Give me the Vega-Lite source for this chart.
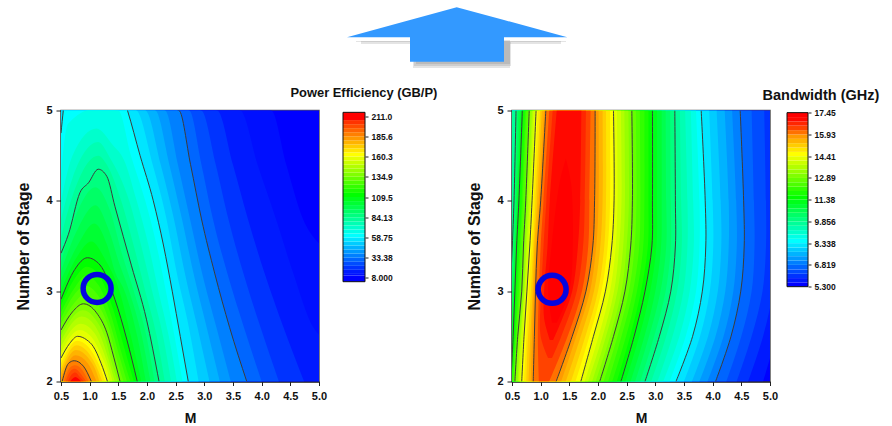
{"$schema":"https://vega.github.io/schema/vega-lite/v6.json","autosize":{"type":"pad"},"padding":{"left":15,"top":0,"right":0,"bottom":0},"bounds":"flush","spacing":30.5,"background":"white","config":{"view":{"stroke":null},"axis":{"labelFont":"Liberation Sans","labelFontWeight":"bold","titleFont":"Liberation Sans","titleFontWeight":"bold","labelColor":"#111","titleColor":"#111","tickColor":"#222","domainColor":"#222","grid":false,"labelOverlap":false,"labelFlush":false}},
"datasets":{
"arrow":[{"u":286,"t":37.3,"b":37.3},{"u":349,"t":20,"b":37.3},{"u":349.01,"t":20,"b":61.7},{"u":395.7,"t":7.3,"b":61.7},{"u":443,"t":20,"b":61.7},{"u":443.01,"t":20,"b":37.3},{"u":506.3,"t":37.3,"b":37.3}],
"shadow":[{"g":1,"u":292,"t":40,"b":40},{"u":355,"g":1,"t":40,"b":40},{"g":1,"u":355.01,"t":40,"b":64},{"g":1,"u":449,"t":40,"b":64},{"g":1,"u":449.01,"t":40,"b":40},{"g":1,"u":512,"t":40,"b":40},{"g":2,"u":295,"t":41,"b":42},{"g":2,"u":353,"t":41,"b":42},{"g":2,"u":353.01,"t":41,"b":66},{"g":2,"u":450,"t":41,"b":66},{"g":2,"u":450.01,"t":41,"b":42},{"g":2,"u":505,"t":41,"b":42},{"g":3,"u":300,"t":41,"b":44},{"g":3,"u":352,"t":41,"b":44},{"g":3,"u":352.01,"t":41,"b":68},{"g":3,"u":449,"t":41,"b":68},{"g":3,"u":449.01,"t":41,"b":44},{"g":3,"u":500,"t":41,"b":44}],
"pe":[
{"L":8,"m":0.5,"s":5.3},{"L":8,"m":5,"s":5.3},
{"L":11,"m":0.5,"s":5.3},{"L":11,"m":4.17,"s":5},{"L":11,"m":4.43,"s":4.4},{"L":11,"m":4.72,"s":3.8},{"L":11,"m":5,"s":3.53},
{"L":13.1,"m":0.5,"s":5.3},{"L":13.1,"m":3.63,"s":5},{"L":13.1,"m":3.93,"s":4.4},{"L":13.1,"m":4.25,"s":3.8},{"L":13.1,"m":4.55,"s":3.2},{"L":13.1,"m":4.9,"s":2.6},{"L":13.1,"m":5,"s":2.52},
{"L":18.2,"m":0.5,"s":5.3},{"L":18.2,"m":3.23,"s":5},{"L":18.2,"m":3.5,"s":4.4},{"L":18.2,"m":3.76,"s":3.8},{"L":18.2,"m":4.05,"s":3.2},{"L":18.2,"m":4.38,"s":2.6},{"L":18.2,"m":4.74,"s":2},
{"L":23.2,"m":0.5,"s":5.3},{"L":23.2,"m":2.95,"s":5},{"L":23.2,"m":3.2,"s":4.4},{"L":23.2,"m":3.42,"s":3.8},{"L":23.2,"m":3.68,"s":3.2},{"L":23.2,"m":3.98,"s":2.6},{"L":23.2,"m":4.3,"s":2},
{"L":28.3,"m":0.5,"s":5.3},{"L":28.3,"m":2.74,"s":5},{"L":28.3,"m":2.95,"s":4.4},{"L":28.3,"m":3.15,"s":3.8},{"L":28.3,"m":3.4,"s":3.2},{"L":28.3,"m":3.69,"s":2.6},{"L":28.3,"m":4,"s":2},
{"L":33.38,"m":0.5,"s":5.3},{"L":33.38,"m":2.56,"s":5},{"L":33.38,"m":2.76,"s":4.4},{"L":33.38,"m":2.95,"s":3.8},{"L":33.38,"m":3.18,"s":3.2},{"L":33.38,"m":3.44,"s":2.6},{"L":33.38,"m":3.74,"s":2},
{"L":38.5,"m":0.5,"s":5.3},{"L":38.5,"m":2.32,"s":5},{"L":38.5,"m":2.54,"s":4.4},{"L":38.5,"m":2.75,"s":3.8},{"L":38.5,"m":2.96,"s":3.2},{"L":38.5,"m":3.21,"s":2.6},{"L":38.5,"m":3.46,"s":2},
{"L":43.5,"m":0.5,"s":5.3},{"L":43.5,"m":2.15,"s":5},{"L":43.5,"m":2.39,"s":4.4},{"L":43.5,"m":2.61,"s":3.8},{"L":43.5,"m":2.81,"s":3.2},{"L":43.5,"m":3.04,"s":2.6},{"L":43.5,"m":3.27,"s":2},
{"L":48.6,"m":0.5,"s":5.3},{"L":48.6,"m":1.98,"s":5},{"L":48.6,"m":2.24,"s":4.4},{"L":48.6,"m":2.47,"s":3.8},{"L":48.6,"m":2.66,"s":3.2},{"L":48.6,"m":2.88,"s":2.6},{"L":48.6,"m":3.09,"s":2},
{"L":53.67,"m":0.5,"s":5.3},{"L":53.67,"m":1.82,"s":5},{"L":53.67,"m":2.1,"s":4.4},{"L":53.67,"m":2.34,"s":3.8},{"L":53.67,"m":2.52,"s":3.2},{"L":53.67,"m":2.73,"s":2.6},{"L":53.67,"m":2.9,"s":2},
{"L":58.75,"m":0.5,"s":4.75},{"L":58.75,"m":0.54,"s":5},{"L":58.75,"m":0.6,"s":5.3},{"L":58.75,"m":1.5,"s":5.3},{"L":58.75,"m":1.66,"s":5},{"L":58.75,"m":1.88,"s":4.5},{"L":58.75,"m":2.11,"s":4},{"L":58.75,"m":2.29,"s":3.5},{"L":58.75,"m":2.44,"s":3},{"L":58.75,"m":2.58,"s":2.5},{"L":58.75,"m":2.72,"s":2},
{"L":63.8,"m":0.5,"s":4.3},{"L":63.8,"m":0.62,"s":4.85},{"L":63.8,"m":1.1,"s":5.02},{"L":63.8,"m":1.5,"s":5},{"L":63.8,"m":1.72,"s":4.5},{"L":63.8,"m":1.97,"s":4},{"L":63.8,"m":2.17,"s":3.5},{"L":63.8,"m":2.33,"s":3},{"L":63.8,"m":2.48,"s":2.5},{"L":63.8,"m":2.62,"s":2},
{"L":68.9,"m":0.5,"s":4},{"L":68.9,"m":0.7,"s":4.5},{"L":68.9,"m":1.12,"s":4.8},{"L":68.9,"m":1.4,"s":4.62},{"L":68.9,"m":1.6,"s":4.45},{"L":68.9,"m":1.82,"s":4},{"L":68.9,"m":2.03,"s":3.5},{"L":68.9,"m":2.2,"s":3},{"L":68.9,"m":2.38,"s":2.5},{"L":68.9,"m":2.52,"s":2},
{"L":73.9,"m":0.5,"s":3.8},{"L":73.9,"m":0.7,"s":4.25},{"L":73.9,"m":1.15,"s":4.65},{"L":73.9,"m":1.35,"s":4.48},{"L":73.9,"m":1.69,"s":4},{"L":73.9,"m":1.9,"s":3.5},{"L":73.9,"m":2.09,"s":3},{"L":73.9,"m":2.28,"s":2.5},{"L":73.9,"m":2.42,"s":2},
{"L":79,"m":0.5,"s":3.6},{"L":79,"m":0.7,"s":4.05},{"L":79,"m":1.15,"s":4.5},{"L":79,"m":1.3,"s":4.4},{"L":79,"m":1.55,"s":4},{"L":79,"m":1.77,"s":3.5},{"L":79,"m":1.97,"s":3},{"L":79,"m":2.17,"s":2.5},{"L":79,"m":2.31,"s":2},
{"L":84.13,"m":0.5,"s":3.42},{"L":84.13,"m":0.63,"s":3.63},{"L":84.13,"m":0.83,"s":4.09},{"L":84.13,"m":0.98,"s":4.2},{"L":84.13,"m":1.15,"s":4.35},{"L":84.13,"m":1.3,"s":4.27},{"L":84.13,"m":1.44,"s":3.94},{"L":84.13,"m":1.73,"s":3.28},{"L":84.13,"m":1.99,"s":2.69},{"L":84.13,"m":2.21,"s":2},
{"L":89.2,"m":0.5,"s":3.32},{"L":89.2,"m":0.8,"s":3.9},{"L":89.2,"m":1.1,"s":4.15},{"L":89.2,"m":1.35,"s":3.9},{"L":89.2,"m":1.57,"s":3.4},{"L":89.2,"m":1.77,"s":3},{"L":89.2,"m":1.99,"s":2.5},{"L":89.2,"m":2.13,"s":2},
{"L":94.3,"m":0.5,"s":3.22},{"L":94.3,"m":0.8,"s":3.7},{"L":94.3,"m":1.1,"s":3.95},{"L":94.3,"m":1.32,"s":3.7},{"L":94.3,"m":1.52,"s":3.3},{"L":94.3,"m":1.69,"s":3},{"L":94.3,"m":1.91,"s":2.5},{"L":94.3,"m":2.06,"s":2},
{"L":99.4,"m":0.5,"s":3.12},{"L":99.4,"m":0.8,"s":3.52},{"L":99.4,"m":1.08,"s":3.75},{"L":99.4,"m":1.3,"s":3.52},{"L":99.4,"m":1.45,"s":3.2},{"L":99.4,"m":1.61,"s":3},{"L":99.4,"m":1.83,"s":2.5},{"L":99.4,"m":1.98,"s":2},
{"L":104.4,"m":0.5,"s":3.01},{"L":104.4,"m":0.78,"s":3.38},{"L":104.4,"m":1.03,"s":3.55},{"L":104.4,"m":1.27,"s":3.35},{"L":104.4,"m":1.52,"s":3},{"L":104.4,"m":1.72,"s":2.5},{"L":104.4,"m":1.9,"s":2},
{"L":109.5,"m":0.5,"s":2.91},{"L":109.5,"m":0.74,"s":3.24},{"L":109.5,"m":0.96,"s":3.37},{"L":109.5,"m":1.18,"s":3.29},{"L":109.5,"m":1.44,"s":2.91},{"L":109.5,"m":1.65,"s":2.46},{"L":109.5,"m":1.83,"s":2},
{"L":114.6,"m":0.5,"s":2.84},{"L":114.6,"m":0.75,"s":3.15},{"L":114.6,"m":0.95,"s":3.27},{"L":114.6,"m":1.16,"s":3.18},{"L":114.6,"m":1.41,"s":2.8},{"L":114.6,"m":1.6,"s":2.38},{"L":114.6,"m":1.77,"s":2},
{"L":119.7,"m":0.5,"s":2.77},{"L":119.7,"m":0.75,"s":3.05},{"L":119.7,"m":0.93,"s":3.17},{"L":119.7,"m":1.15,"s":3.07},{"L":119.7,"m":1.38,"s":2.72},{"L":119.7,"m":1.55,"s":2.33},{"L":119.7,"m":1.71,"s":2},
{"L":124.8,"m":0.5,"s":2.7},{"L":124.8,"m":0.73,"s":2.96},{"L":124.8,"m":0.92,"s":3.06},{"L":124.8,"m":1.14,"s":2.96},{"L":124.8,"m":1.35,"s":2.65},{"L":124.8,"m":1.51,"s":2.3},{"L":124.8,"m":1.65,"s":2},
{"L":129.8,"m":0.5,"s":2.64},{"L":129.8,"m":0.72,"s":2.86},{"L":129.8,"m":0.9,"s":2.96},{"L":129.8,"m":1.13,"s":2.86},{"L":129.8,"m":1.33,"s":2.6},{"L":129.8,"m":1.46,"s":2.28},{"L":129.8,"m":1.59,"s":2},
{"L":134.9,"m":0.5,"s":2.57},{"L":134.9,"m":0.7,"s":2.77},{"L":134.9,"m":0.89,"s":2.86},{"L":134.9,"m":1.12,"s":2.76},{"L":134.9,"m":1.3,"s":2.54},{"L":134.9,"m":1.42,"s":2.27},{"L":134.9,"m":1.53,"s":2},
{"L":140,"m":0.5,"s":2.51},{"L":140,"m":0.88,"s":2.79},{"L":140,"m":1.1,"s":2.69},{"L":140,"m":1.27,"s":2.48},{"L":140,"m":1.38,"s":2.22},{"L":140,"m":1.49,"s":2},
{"L":145,"m":0.5,"s":2.45},{"L":145,"m":0.86,"s":2.72},{"L":145,"m":1.09,"s":2.62},{"L":145,"m":1.24,"s":2.42},{"L":145,"m":1.35,"s":2.2},{"L":145,"m":1.44,"s":2},
{"L":150,"m":0.5,"s":2.39},{"L":150,"m":0.84,"s":2.64},{"L":150,"m":1.08,"s":2.54},{"L":150,"m":1.22,"s":2.36},{"L":150,"m":1.31,"s":2.2},{"L":150,"m":1.4,"s":2},
{"L":155,"m":0.5,"s":2.32},{"L":155,"m":0.82,"s":2.57},{"L":155,"m":1.07,"s":2.46},{"L":155,"m":1.21,"s":2.28},{"L":155,"m":1.3,"s":2.14},{"L":155,"m":1.35,"s":2},
{"L":160.3,"m":0.5,"s":2.26},{"L":160.3,"m":0.65,"s":2.42},{"L":160.3,"m":0.79,"s":2.5},{"L":160.3,"m":0.95,"s":2.46},{"L":160.3,"m":1.06,"s":2.39},{"L":160.3,"m":1.2,"s":2.2},{"L":160.3,"m":1.31,"s":2},
{"L":165.4,"m":0.5,"s":2.2},{"L":165.4,"m":0.78,"s":2.45},{"L":165.4,"m":1.04,"s":2.33},{"L":165.4,"m":1.18,"s":2.16},{"L":165.4,"m":1.27,"s":2},
{"L":170.5,"m":0.5,"s":2.14},{"L":170.5,"m":0.77,"s":2.4},{"L":170.5,"m":1.02,"s":2.28},{"L":170.5,"m":1.15,"s":2.12},{"L":170.5,"m":1.22,"s":2},
{"L":175.5,"m":0.5,"s":2.09},{"L":175.5,"m":0.76,"s":2.35},{"L":175.5,"m":1,"s":2.24},{"L":175.5,"m":1.12,"s":2.1},{"L":175.5,"m":1.17,"s":2},
{"L":180.6,"m":0.5,"s":2.04},{"L":180.6,"m":0.75,"s":2.29},{"L":180.6,"m":0.97,"s":2.2},{"L":180.6,"m":1.1,"s":2.03},{"L":180.6,"m":1.12,"s":2},
{"L":185.6,"m":0.52,"s":2},{"L":185.6,"m":0.63,"s":2.2},{"L":185.6,"m":0.73,"s":2.23},{"L":185.6,"m":0.89,"s":2.17},{"L":185.6,"m":1.03,"s":2},
{"L":190.7,"m":0.55,"s":2},{"L":190.7,"m":0.65,"s":2.15},{"L":190.7,"m":0.74,"s":2.18},{"L":190.7,"m":0.88,"s":2.12},{"L":190.7,"m":0.98,"s":2},
{"L":195.8,"m":0.58,"s":2},{"L":195.8,"m":0.67,"s":2.12},{"L":195.8,"m":0.74,"s":2.14},{"L":195.8,"m":0.85,"s":2.08},{"L":195.8,"m":0.94,"s":2},
{"L":200.8,"m":0.62,"s":2},{"L":200.8,"m":0.69,"s":2.08},{"L":200.8,"m":0.75,"s":2.1},{"L":200.8,"m":0.83,"s":2.05},{"L":200.8,"m":0.9,"s":2},
{"L":211,"m":0.66,"s":2},{"L":211,"m":0.75,"s":2.05},{"L":211,"m":0.85,"s":2}
],
"pebar":[{"v":8,"lo":3.36,"hi":11},{"v":11,"lo":11,"hi":13.1},{"v":13.1,"lo":13.1,"hi":18.2},{"v":18.2,"lo":18.2,"hi":23.2},{"v":23.2,"lo":23.2,"hi":28.3},{"v":28.3,"lo":28.3,"hi":33.38},{"v":33.38,"lo":33.38,"hi":38.5},{"v":38.5,"lo":38.5,"hi":43.5},{"v":43.5,"lo":43.5,"hi":48.6},{"v":48.6,"lo":48.6,"hi":53.67},{"v":53.67,"lo":53.67,"hi":58.75},{"v":58.75,"lo":58.75,"hi":63.8},{"v":63.8,"lo":63.8,"hi":68.9},{"v":68.9,"lo":68.9,"hi":73.9},{"v":73.9,"lo":73.9,"hi":79},{"v":79,"lo":79,"hi":84.13},{"v":84.13,"lo":84.13,"hi":89.2},{"v":89.2,"lo":89.2,"hi":94.3},{"v":94.3,"lo":94.3,"hi":99.4},{"v":99.4,"lo":99.4,"hi":104.4},{"v":104.4,"lo":104.4,"hi":109.5},{"v":109.5,"lo":109.5,"hi":114.6},{"v":114.6,"lo":114.6,"hi":119.7},{"v":119.7,"lo":119.7,"hi":124.8},{"v":124.8,"lo":124.8,"hi":129.8},{"v":129.8,"lo":129.8,"hi":134.9},{"v":134.9,"lo":134.9,"hi":140},{"v":140,"lo":140,"hi":145},{"v":145,"lo":145,"hi":150},{"v":150,"lo":150,"hi":155},{"v":155,"lo":155,"hi":160.3},{"v":160.3,"lo":160.3,"hi":165.4},{"v":165.4,"lo":165.4,"hi":170.5},{"v":170.5,"lo":170.5,"hi":175.5},{"v":175.5,"lo":175.5,"hi":180.6},{"v":180.6,"lo":180.6,"hi":185.6},{"v":185.6,"lo":185.6,"hi":190.7},{"v":190.7,"lo":190.7,"hi":195.8},{"v":195.8,"lo":195.8,"hi":200.8},{"v":200.8,"lo":200.8,"hi":205.9},{"v":211,"lo":205.9,"hi":215.6}],
"bw":[
{"L":5.3,"s":5,"a":0.3,"b":5.3},{"L":5.3,"s":2,"a":0.3,"b":5.3},
{"L":5.6,"s":5,"a":0.3,"b":5.3},{"L":5.6,"s":4,"a":0.3,"b":5.3},{"L":5.6,"s":3.5,"a":0.3,"b":5.3},{"L":5.6,"s":3,"a":0.3,"b":5.25},{"L":5.6,"s":2.5,"a":0.3,"b":5.1},{"L":5.6,"s":2,"a":0.3,"b":4.88},
{"L":5.9,"s":5,"a":0.3,"b":5.1},{"L":5.9,"s":4,"a":0.3,"b":5.1},{"L":5.9,"s":3.5,"a":0.3,"b":5.1},{"L":5.9,"s":3,"a":0.3,"b":5.05},{"L":5.9,"s":2.5,"a":0.3,"b":4.88},{"L":5.9,"s":2,"a":0.3,"b":4.62},
{"L":6.2,"s":5,"a":0.3,"b":4.9},{"L":6.2,"s":4,"a":0.3,"b":4.93},{"L":6.2,"s":3.5,"a":0.3,"b":4.93},{"L":6.2,"s":3,"a":0.3,"b":4.87},{"L":6.2,"s":2.5,"a":0.3,"b":4.68},{"L":6.2,"s":2,"a":0.3,"b":4.42},
{"L":6.5,"s":5,"a":0.3,"b":4.68},{"L":6.5,"s":4,"a":0.3,"b":4.72},{"L":6.5,"s":3.5,"a":0.3,"b":4.73},{"L":6.5,"s":3,"a":0.3,"b":4.68},{"L":6.5,"s":2.5,"a":0.3,"b":4.5},{"L":6.5,"s":2,"a":0.3,"b":4.24},
{"L":6.82,"s":5,"a":0.3,"b":4.48},{"L":6.82,"s":4,"a":0.3,"b":4.54},{"L":6.82,"s":3.5,"a":0.3,"b":4.55},{"L":6.82,"s":3,"a":0.3,"b":4.49},{"L":6.82,"s":2.5,"a":0.3,"b":4.32},{"L":6.82,"s":2,"a":0.3,"b":4.05},
{"L":7.12,"s":5,"a":0.3,"b":4.34},{"L":7.12,"s":4,"a":0.3,"b":4.41},{"L":7.12,"s":3.5,"a":0.3,"b":4.42},{"L":7.12,"s":3,"a":0.3,"b":4.36},{"L":7.12,"s":2.5,"a":0.3,"b":4.19},{"L":7.12,"s":2,"a":0.3,"b":3.91},
{"L":7.43,"s":5,"a":0.3,"b":4.21},{"L":7.43,"s":4,"a":0.3,"b":4.28},{"L":7.43,"s":3.5,"a":0.3,"b":4.28},{"L":7.43,"s":3,"a":0.3,"b":4.22},{"L":7.43,"s":2.5,"a":0.3,"b":4.05},{"L":7.43,"s":2,"a":0.3,"b":3.77},
{"L":7.73,"s":5,"a":0.3,"b":4.07},{"L":7.73,"s":4,"a":0.3,"b":4.14},{"L":7.73,"s":3.5,"a":0.3,"b":4.15},{"L":7.73,"s":3,"a":0.3,"b":4.09},{"L":7.73,"s":2.5,"a":0.3,"b":3.92},{"L":7.73,"s":2,"a":0.3,"b":3.64},
{"L":8.03,"s":5,"a":0.3,"b":3.94},{"L":8.03,"s":4,"a":0.3,"b":4},{"L":8.03,"s":3.5,"a":0.3,"b":4.01},{"L":8.03,"s":3,"a":0.3,"b":3.95},{"L":8.03,"s":2.5,"a":0.3,"b":3.78},{"L":8.03,"s":2,"a":0.3,"b":3.5},
{"L":8.34,"s":5,"a":0.3,"b":3.8},{"L":8.34,"s":4,"a":0.3,"b":3.87},{"L":8.34,"s":3.5,"a":0.3,"b":3.88},{"L":8.34,"s":3,"a":0.3,"b":3.82},{"L":8.34,"s":2.5,"a":0.3,"b":3.65},{"L":8.34,"s":2,"a":0.3,"b":3.36},
{"L":8.64,"s":5,"a":0.3,"b":3.71},{"L":8.64,"s":4,"a":0.3,"b":3.77},{"L":8.64,"s":3.5,"a":0.3,"b":3.77},{"L":8.64,"s":3,"a":0.3,"b":3.71},{"L":8.64,"s":2.5,"a":0.3,"b":3.53},{"L":8.64,"s":2,"a":0.3,"b":3.25},
{"L":8.95,"s":5,"a":0.3,"b":3.62},{"L":8.95,"s":4,"a":0.3,"b":3.66},{"L":8.95,"s":3.5,"a":0.3,"b":3.67},{"L":8.95,"s":3,"a":0.3,"b":3.6},{"L":8.95,"s":2.5,"a":0.3,"b":3.42},{"L":8.95,"s":2,"a":0.3,"b":3.14},
{"L":9.25,"s":5,"a":0.3,"b":3.52},{"L":9.25,"s":4,"a":0.3,"b":3.56},{"L":9.25,"s":3.5,"a":0.3,"b":3.56},{"L":9.25,"s":3,"a":0.3,"b":3.49},{"L":9.25,"s":2.5,"a":0.3,"b":3.3},{"L":9.25,"s":2,"a":0.3,"b":3.04},
{"L":9.55,"s":5,"a":0.3,"b":3.43},{"L":9.55,"s":4,"a":0.3,"b":3.45},{"L":9.55,"s":3.5,"a":0.3,"b":3.46},{"L":9.55,"s":3,"a":0.3,"b":3.38},{"L":9.55,"s":2.5,"a":0.3,"b":3.19},{"L":9.55,"s":2,"a":0.3,"b":2.93},
{"L":9.86,"s":5,"a":0.57,"b":3.34},{"L":9.86,"s":4,"a":0.535,"b":3.35},{"L":9.86,"s":3.5,"a":0.505,"b":3.35},{"L":9.86,"s":3,"a":0.47,"b":3.27},{"L":9.86,"s":2.5,"a":0.44,"b":3.07},{"L":9.86,"s":2,"a":0.42,"b":2.82},
{"L":10.16,"s":5,"a":0.59,"b":3.26},{"L":10.16,"s":4,"a":0.55,"b":3.27},{"L":10.16,"s":3.5,"a":0.52,"b":3.27},{"L":10.16,"s":3,"a":0.49,"b":3.18},{"L":10.16,"s":2.5,"a":0.46,"b":2.98},{"L":10.16,"s":2,"a":0.43,"b":2.74},
{"L":10.46,"s":5,"a":0.61,"b":3.18},{"L":10.46,"s":4,"a":0.57,"b":3.19},{"L":10.46,"s":3.5,"a":0.54,"b":3.19},{"L":10.46,"s":3,"a":0.51,"b":3.09},{"L":10.46,"s":2.5,"a":0.48,"b":2.89},{"L":10.46,"s":2,"a":0.44,"b":2.65},
{"L":10.77,"s":5,"a":0.64,"b":3.11},{"L":10.77,"s":4,"a":0.59,"b":3.11},{"L":10.77,"s":3.5,"a":0.55,"b":3.1},{"L":10.77,"s":3,"a":0.52,"b":3},{"L":10.77,"s":2.5,"a":0.49,"b":2.81},{"L":10.77,"s":2,"a":0.46,"b":2.57},
{"L":11.07,"s":5,"a":0.66,"b":3.03},{"L":11.07,"s":4,"a":0.6,"b":3.03},{"L":11.07,"s":3.5,"a":0.57,"b":3.02},{"L":11.07,"s":3,"a":0.54,"b":2.91},{"L":11.07,"s":2.5,"a":0.51,"b":2.72},{"L":11.07,"s":2,"a":0.47,"b":2.48},
{"L":11.38,"s":5,"a":0.68,"b":2.95},{"L":11.38,"s":4,"a":0.62,"b":2.95},{"L":11.38,"s":3.5,"a":0.58,"b":2.94},{"L":11.38,"s":3,"a":0.55,"b":2.82},{"L":11.38,"s":2.5,"a":0.52,"b":2.63},{"L":11.38,"s":2,"a":0.48,"b":2.4},
{"L":11.68,"s":5,"a":0.7,"b":2.88},{"L":11.68,"s":4,"a":0.64,"b":2.88},{"L":11.68,"s":3.5,"a":0.6,"b":2.87},{"L":11.68,"s":3,"a":0.57,"b":2.75},{"L":11.68,"s":2.5,"a":0.54,"b":2.56},{"L":11.68,"s":2,"a":0.49,"b":2.33},
{"L":11.98,"s":5,"a":0.73,"b":2.81},{"L":11.98,"s":4,"a":0.67,"b":2.81},{"L":11.98,"s":3.5,"a":0.63,"b":2.79},{"L":11.98,"s":3,"a":0.59,"b":2.68},{"L":11.98,"s":2.5,"a":0.56,"b":2.49},{"L":11.98,"s":2,"a":0.5,"b":2.25},
{"L":12.28,"s":5,"a":0.75,"b":2.73},{"L":12.28,"s":4,"a":0.69,"b":2.74},{"L":12.28,"s":3.5,"a":0.65,"b":2.72},{"L":12.28,"s":3,"a":0.62,"b":2.61},{"L":12.28,"s":2.5,"a":0.57,"b":2.41},{"L":12.28,"s":2,"a":0.52,"b":2.18},
{"L":12.59,"s":5,"a":0.78,"b":2.66},{"L":12.59,"s":4,"a":0.72,"b":2.67},{"L":12.59,"s":3.5,"a":0.68,"b":2.64},{"L":12.59,"s":3,"a":0.64,"b":2.54},{"L":12.59,"s":2.5,"a":0.59,"b":2.34},{"L":12.59,"s":2,"a":0.53,"b":2.1},
{"L":12.89,"s":5,"a":0.8,"b":2.59},{"L":12.89,"s":4,"a":0.74,"b":2.6},{"L":12.89,"s":3.5,"a":0.7,"b":2.57},{"L":12.89,"s":3,"a":0.67,"b":2.47},{"L":12.89,"s":2.5,"a":0.6,"b":2.27},{"L":12.89,"s":2,"a":0.55,"b":2.03},
{"L":13.19,"s":5,"a":0.82,"b":2.53},{"L":13.19,"s":4,"a":0.76,"b":2.54},{"L":13.19,"s":3.5,"a":0.72,"b":2.5},{"L":13.19,"s":3,"a":0.69,"b":2.41},{"L":13.19,"s":2.5,"a":0.62,"b":2.21},{"L":13.19,"s":2,"a":0.57,"b":1.96},
{"L":13.49,"s":5,"a":0.85,"b":2.46},{"L":13.49,"s":4,"a":0.78,"b":2.47},{"L":13.49,"s":3.5,"a":0.74,"b":2.44},{"L":13.49,"s":3,"a":0.71,"b":2.34},{"L":13.49,"s":2.5,"a":0.64,"b":2.14},{"L":13.49,"s":2,"a":0.6,"b":1.9},
{"L":13.8,"s":5,"a":0.87,"b":2.4},{"L":13.8,"s":4,"a":0.81,"b":2.41},{"L":13.8,"s":3.5,"a":0.76,"b":2.37},{"L":13.8,"s":3,"a":0.72,"b":2.28},{"L":13.8,"s":2.5,"a":0.66,"b":2.08},{"L":13.8,"s":2,"a":0.62,"b":1.83},
{"L":14.1,"s":5,"a":0.9,"b":2.33},{"L":14.1,"s":4,"a":0.83,"b":2.34},{"L":14.1,"s":3.5,"a":0.79,"b":2.31},{"L":14.1,"s":3,"a":0.74,"b":2.21},{"L":14.1,"s":2.5,"a":0.69,"b":2.01},{"L":14.1,"s":2,"a":0.64,"b":1.77},
{"L":14.41,"s":5,"a":0.92,"b":2.27},{"L":14.41,"s":4,"a":0.85,"b":2.28},{"L":14.41,"s":3.5,"a":0.81,"b":2.24},{"L":14.41,"s":3,"a":0.76,"b":2.13},{"L":14.41,"s":2.5,"a":0.71,"b":1.92},{"L":14.41,"s":2,"a":0.67,"b":1.7},
{"L":14.71,"s":5,"a":0.95,"b":2.21},{"L":14.71,"s":4,"a":0.88,"b":2.21},{"L":14.71,"s":3.5,"a":0.84,"b":2.17},{"L":14.71,"s":3,"a":0.79,"b":2.06},{"L":14.71,"s":2.5,"a":0.75,"b":1.85},{"L":14.71,"s":2,"a":0.71,"b":1.61},
{"L":15.01,"s":5,"a":0.99,"b":2.14},{"L":15.01,"s":4,"a":0.91,"b":2.14},{"L":15.01,"s":3.5,"a":0.87,"b":2.11},{"L":15.01,"s":3,"a":0.83,"b":2},{"L":15.01,"s":2.5,"a":0.78,"b":1.78},{"L":15.01,"s":2,"a":0.75,"b":1.53},
{"L":15.32,"s":5,"a":1.02,"b":2.08},{"L":15.32,"s":4,"a":0.94,"b":2.08},{"L":15.32,"s":3.5,"a":0.89,"b":2.04},{"L":15.32,"s":3,"a":0.86,"b":1.93},{"L":15.32,"s":2.5,"a":0.82,"b":1.7},{"L":15.32,"s":2,"a":0.79,"b":1.44},
{"L":15.62,"s":5,"a":1.06,"b":2.01},{"L":15.62,"s":4,"a":0.97,"b":2.01},{"L":15.62,"s":3.5,"a":0.92,"b":1.97},{"L":15.62,"s":3,"a":0.88,"b":1.86},{"L":15.62,"s":2.5,"a":0.85,"b":1.62},{"L":15.62,"s":2,"a":0.83,"b":1.36},
{"L":16.1,"s":5,"a":1.09,"b":1.95},{"L":16.1,"s":4,"a":1,"b":1.94},{"L":16.1,"s":3.5,"a":0.94,"b":1.91},{"L":16.1,"s":3,"a":0.91,"b":1.79},{"L":16.1,"s":2.5,"a":0.89,"b":1.55},{"L":16.1,"s":2,"a":0.87,"b":1.27},
{"L":16.65,"s":5,"a":1.15,"b":1.87},{"L":16.65,"s":4,"a":1.05,"b":1.85},{"L":16.65,"s":3.5,"a":1,"b":1.83},{"L":16.65,"s":3,"a":0.97,"b":1.72},{"L":16.65,"s":2.5,"a":0.95,"b":1.47},{"L":16.65,"s":2,"a":0.97,"b":1.15},
{"L":17,"s":5,"a":1.21,"b":1.79},{"L":17,"s":4,"a":1.1,"b":1.77},{"L":17,"s":3.5,"a":1.05,"b":1.74},{"L":17,"s":3,"a":1.01,"b":1.63},{"L":17,"s":2.5,"a":1,"b":1.36},{"L":17,"s":2.26,"a":1.13,"b":1.2},
{"L":17.35,"s":5,"a":1.28,"b":1.71},{"L":17.35,"s":4,"a":1.16,"b":1.69},{"L":17.35,"s":3.5,"a":1.12,"b":1.65},{"L":17.35,"s":3,"a":1.06,"b":1.55},{"L":17.35,"s":2.7,"a":1.06,"b":1.38},{"L":17.35,"s":2.46,"a":1.16,"b":1.22},
{"L":17.45,"s":4.47,"a":1.44,"b":1.44},{"L":17.45,"s":4.2,"a":1.33,"b":1.53},{"L":17.45,"s":3.5,"a":1.19,"b":1.56},{"L":17.45,"s":3,"a":1.13,"b":1.5},{"L":17.45,"s":2.65,"a":1.2,"b":1.28}
],
"bwbar":[{"v":5.3,"lo":5.3,"hi":5.6},{"v":5.6,"lo":5.6,"hi":5.9},{"v":5.9,"lo":5.9,"hi":6.2},{"v":6.2,"lo":6.2,"hi":6.5},{"v":6.5,"lo":6.5,"hi":6.82},{"v":6.82,"lo":6.82,"hi":7.12},{"v":7.12,"lo":7.12,"hi":7.43},{"v":7.43,"lo":7.43,"hi":7.73},{"v":7.73,"lo":7.73,"hi":8.03},{"v":8.03,"lo":8.03,"hi":8.34},{"v":8.34,"lo":8.34,"hi":8.64},{"v":8.64,"lo":8.64,"hi":8.95},{"v":8.95,"lo":8.95,"hi":9.25},{"v":9.25,"lo":9.25,"hi":9.55},{"v":9.55,"lo":9.55,"hi":9.86},{"v":9.86,"lo":9.86,"hi":10.16},{"v":10.16,"lo":10.16,"hi":10.46},{"v":10.46,"lo":10.46,"hi":10.77},{"v":10.77,"lo":10.77,"hi":11.07},{"v":11.07,"lo":11.07,"hi":11.38},{"v":11.38,"lo":11.38,"hi":11.68},{"v":11.68,"lo":11.68,"hi":11.98},{"v":11.98,"lo":11.98,"hi":12.28},{"v":12.28,"lo":12.28,"hi":12.59},{"v":12.59,"lo":12.59,"hi":12.89},{"v":12.89,"lo":12.89,"hi":13.19},{"v":13.19,"lo":13.19,"hi":13.49},{"v":13.49,"lo":13.49,"hi":13.8},{"v":13.8,"lo":13.8,"hi":14.1},{"v":14.1,"lo":14.1,"hi":14.41},{"v":14.41,"lo":14.41,"hi":14.71},{"v":14.71,"lo":14.71,"hi":15.01},{"v":15.01,"lo":15.01,"hi":15.32},{"v":15.32,"lo":15.32,"hi":15.62},{"v":15.62,"lo":15.62,"hi":15.93},{"v":16.1,"lo":15.93,"hi":16.23},{"v":16.65,"lo":16.23,"hi":16.54},{"v":17,"lo":16.54,"hi":16.84},{"v":17.35,"lo":16.84,"hi":17.14},{"v":17.45,"lo":17.14,"hi":17.45}]
},
"vconcat":[
{"width":771,"height":80,"layer":[
{"data":{"name":"shadow"},"mark":{"type":"area","color":"#555","opacity":0.16},"encoding":{"x":{"field":"u","type":"quantitative","scale":{"domain":[0,771]},"axis":null},"y":{"field":"t","type":"quantitative","scale":{"domain":[80,0]},"axis":null},"y2":{"field":"b"},"detail":{"field":"g","type":"nominal"}}},
{"data":{"name":"arrow"},"mark":{"type":"area","color":"#3399ff"},"encoding":{"x":{"field":"u","type":"quantitative","scale":{"domain":[0,771]},"axis":null},"y":{"field":"t","type":"quantitative","scale":{"domain":[80,0]},"axis":null},"y2":{"field":"b"}}}
]},
{"bounds":"flush","spacing":0,"resolve":{"scale":{"color":"independent"}},"hconcat":[
{"width":258,"height":271,"view":{"stroke":"#555","strokeWidth":1.5},
"encoding":{"x":{"field":"m","type":"quantitative","title":"M","scale":{"domain":[0.5,5],"nice":false,"zero":false},"axis":{"values":[0.5,1,1.5,2,2.5,3,3.5,4,4.5,5],"format":".1f","labelFontSize":11,"titleFontSize":14,"tickSize":4,"labelPadding":5,"titlePadding":10,"domainWidth":1.5,"labelOverlap":false}},"y":{"field":"s","type":"quantitative","title":"Number of Stage","scale":{"domain":[2,5],"nice":false,"zero":false},"axis":{"values":[2,3,4,5],"format":"d","labelFontSize":11,"titleFontSize":16,"tickSize":5,"labelPadding":4,"titlePadding":14,"domainWidth":1.5}}},
"layer":[
{"data":{"name":"pe"},"mark":{"type":"area","interpolate":"monotone","clip":true,"orient":"vertical"},"encoding":{"y2":{"datum":2},"color":{"field":"L","type":"quantitative","scale":{"domain":[8,58.75,109.5,160.3,211],"range":["#0000ff","#00ffff","#00ff00","#ffff00","#ff0000"],"interpolate":"rgb"},"legend":null},"detail":{"field":"L","type":"nominal"}}},
{"data":{"name":"pe"},"transform":[{"filter":{"field":"L","oneOf":[33.38,58.75,84.13,109.5,134.9,160.3,185.6]}}],"mark":{"type":"line","interpolate":"monotone","clip":true,"color":"#3c3c3c","strokeWidth":1},"encoding":{"detail":{"field":"L","type":"nominal"}}},
{"data":{"values":[{"m":1.13,"s":3.03}]},"mark":{"type":"point","shape":"circle","filled":false,"size":784,"strokeWidth":5.5,"color":"#0505e0","opacity":1}}
]},
{"width":24,"height":271,"data":{"values":[{"z":1}]},"mark":{"type":"rule","opacity":0},"encoding":{}},
{"width":22,"height":271,"title":{"text":"Power Efficiency (GB/P)","anchor":"start","dx":-52,"offset":11,"fontSize":12.9,"font":"Liberation Sans","fontWeight":"bold","color":"#111"},
"data":{"name":"pebar"},
"encoding":{"y":{"field":"lo","type":"quantitative","scale":{"domain":[-121.7,217.9],"nice":false,"zero":false},"title":null,"axis":{"orient":"right","values":[211,185.6,160.3,134.9,109.5,84.13,58.75,33.38,8],"format":".4r","domain":false,"labelFontSize":8.5,"tickSize":3,"labelPadding":3,"labelOverlap":false}},"y2":{"field":"hi"}},
"layer":[
{"mark":{"type":"rect"},"encoding":{"color":{"field":"v","type":"quantitative","scale":{"domain":[8,58.75,109.5,160.3,211],"range":["#0000ff","#00ffff","#00ff00","#ffff00","#ff0000"],"interpolate":"rgb"},"legend":null}}},
{"data":{"values":[{"lo":3.36,"hi":215.6}]},"mark":{"type":"rect","fill":null,"stroke":"#111","strokeWidth":1}}
]},
{"width":147,"height":271,"data":{"values":[{"z":1}]},"mark":{"type":"rule","opacity":0},"encoding":{}},
{"width":258,"height":271,"view":{"stroke":"#555","strokeWidth":1.5},
"encoding":{"x":{"field":"a","type":"quantitative","title":"M","scale":{"domain":[0.5,5],"nice":false,"zero":false},"axis":{"values":[0.5,1,1.5,2,2.5,3,3.5,4,4.5,5],"format":".1f","labelFontSize":11,"titleFontSize":14,"tickSize":4,"labelPadding":5,"titlePadding":10,"domainWidth":1.5,"labelOverlap":false}},"y":{"field":"s","type":"quantitative","title":"Number of Stage","scale":{"domain":[2,5],"nice":false,"zero":false},"axis":{"values":[2,3,4,5],"format":"d","labelFontSize":11,"titleFontSize":16,"tickSize":5,"labelPadding":4,"titlePadding":14,"domainWidth":1.5}}},
"layer":[
{"data":{"name":"bw"},"mark":{"type":"area","interpolate":"catmull-rom","clip":true,"orient":"horizontal"},"encoding":{"x2":{"field":"b"},"color":{"field":"L","type":"quantitative","scale":{"domain":[5.3,8.338,11.38,14.41,17.45],"range":["#0000ff","#00ffff","#00ff00","#ffff00","#ff0000"],"interpolate":"rgb"},"legend":null},"detail":{"field":"L","type":"nominal"}}},
{"data":{"name":"bw"},"transform":[{"filter":{"field":"L","oneOf":[9.86,11.38,12.89,14.41,16.1]}}],"mark":{"type":"line","interpolate":"catmull-rom","clip":true,"color":"#3c3c3c","strokeWidth":1},"encoding":{"order":{"field":"s","type":"quantitative"},"detail":{"field":"L","type":"nominal"}}},
{"data":{"name":"bw"},"transform":[{"filter":{"field":"L","oneOf":[6.82,8.34,9.86,11.38,12.89,14.41,16.1]}}],"mark":{"type":"line","interpolate":"catmull-rom","clip":true,"color":"#3c3c3c","strokeWidth":1},"encoding":{"x":{"field":"b","type":"quantitative"},"order":{"field":"s","type":"quantitative"},"detail":{"field":"L","type":"nominal"}}},
{"data":{"values":[{"a":1.2,"s":3.02}]},"mark":{"type":"point","shape":"circle","filled":false,"size":784,"strokeWidth":5.5,"color":"#0505e0","opacity":1}}
]},
{"width":17,"height":271,"data":{"values":[{"z":1}]},"mark":{"type":"rule","opacity":0},"encoding":{}},
{"width":21,"height":271,"title":{"text":"Bandwidth (GHz)","anchor":"start","dx":-24,"offset":5,"fontSize":14.5,"font":"Liberation Sans","fontWeight":"bold","color":"#111"},
"data":{"name":"bwbar"},
"encoding":{"y":{"field":"lo","type":"quantitative","scale":{"domain":[-1.32,17.6],"nice":false,"zero":false},"title":null,"axis":{"orient":"right","values":[17.45,15.93,14.41,12.89,11.38,9.856,8.338,6.819,5.3],"format":".4r","domain":false,"labelFontSize":8.5,"tickSize":3,"labelPadding":3,"labelOverlap":false}},"y2":{"field":"hi"}},
"layer":[
{"mark":{"type":"rect"},"encoding":{"color":{"field":"v","type":"quantitative","scale":{"domain":[5.3,8.338,11.38,14.41,17.45],"range":["#0000ff","#00ffff","#00ff00","#ffff00","#ff0000"],"interpolate":"rgb"},"legend":null}}},
{"data":{"values":[{"lo":5.3,"hi":17.45}]},"mark":{"type":"rect","fill":null,"stroke":"#111","strokeWidth":1}}
]}
]}
]}
